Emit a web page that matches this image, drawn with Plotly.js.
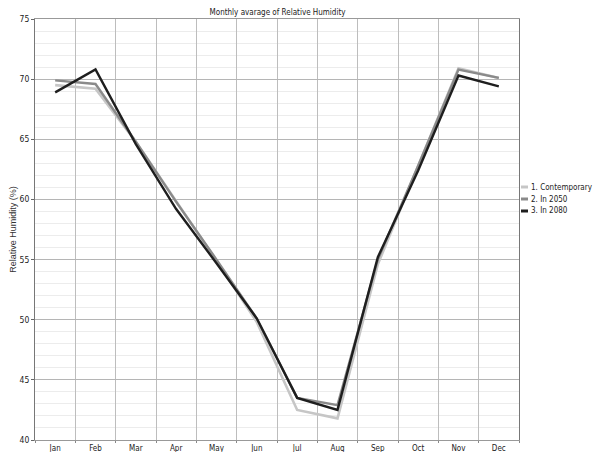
<!DOCTYPE html>
<html>
<head>
<meta charset="utf-8">
<script src="https://cdn.plot.ly/plotly-3.0.1.min.js"></script>
<style>
html,body{margin:0;padding:0;background:#fff;}
#chart{width:593px;height:452px;}
</style>
</head>
<body>
<div id="chart"></div>
<script>
var months = ["Jan","Feb","Mar","Apr","May","Jun","Jul","Aug","Sep","Oct","Nov","Dec"];
var seriesNames = ["1. Contemporary","2. In 2050","3. In 2080"];
var contemporary = [69.5, 69.2, 64.8, 59.9, 54.9, 49.8, 42.5, 41.8, 54.6, 62.8, 70.9, 70.1];
var in2050       = [69.9, 69.6, 64.8, 59.8, 55.0, 50.1, 43.5, 42.9, 55.0, 62.8, 70.8, 70.1];
var in2080       = [68.9, 70.8, 64.6, 59.2, 54.7, 50.1, 43.5, 42.5, 55.2, 62.4, 70.3, 69.4];
var yTicks = [40, 45, 50, 55, 60, 65, 70, 75];

var colors = ["#c6c6c6", "#8a8a8a", "#1e1e1e"];
var widths = [2.6, 2.4, 2.4];
var allSeries = [contemporary, in2050, in2080];

var narrow = "DejaVu Sans Condensed, Liberation Sans Narrow, Arial Narrow, sans-serif";

var traces = allSeries.map(function(s, i){
  return {
    x: months, y: s, type: "scatter", mode: "lines", name: seriesNames[i],
    line: {color: colors[i], width: widths[i]}, showlegend: false
  };
});

var plotTop = 19, plotBottom = 440, plotH = plotBottom - plotTop;
var shapes = [];
var annotations = [];
seriesNames.forEach(function(n, i){
  var yp = 187 + i*12;
  var yy = 1 - (yp - plotTop)/plotH;
  shapes.push({type:"line", xref:"paper", yref:"paper",
    x0: (521-35)/484, x1: (528-35)/484, y0: yy, y1: yy,
    line:{color: colors[i], width: 3}});
  annotations.push({xref:"paper", yref:"paper", x:(529-35)/484, y:yy,
    xanchor:"left", yanchor:"middle", showarrow:false, text:n,
    font:{family: narrow, size: 8, color:"#222"}});
});

var layout = {
  width: 593, height: 452,
  margin: {l:35, r:74, t:plotTop, b:452-plotBottom, pad:0},
  paper_bgcolor: "#fff", plot_bgcolor: "#fff",
  title: {text: "Monthly avarage of Relative Humidity", x: 0.468, xanchor:"center",
          y: 0.974, yanchor:"middle", yref:"container",
          font:{family: narrow, size: 8, color:"#222"}},
  xaxis: {
    type: "category", tickson: "boundaries", showgrid: true, gridcolor: "#bdbdbd", gridwidth: 1,
    ticks: "outside", ticklen: 2, tickcolor: "#888",
    showline: true, linecolor: "#999", linewidth: 1, mirror: true,
    tickfont: {family: narrow, size: 8, color:"#222"},
    range: [-0.5, 11.5], fixedrange: true
  },
  yaxis: {
    range: [40, 75], tickvals: yTicks, ticktext: yTicks.map(String),
    showgrid: true, gridcolor: "#b5b5b5", gridwidth: 1,
    minor: {dtick: 1, tick0: 40, showgrid: true, gridcolor: "#ececec", gridwidth: 1},
    ticks: "outside", ticklen: 3, tickcolor: "#666",
    showline: true, linecolor: "#777", linewidth: 1, mirror: true,
    zeroline: false,
    tickfont: {family: narrow, size: 8.5, color:"#222"},
    title: {text: "Relative Humidity (%)", standoff: 1,
            font: {family: "Liberation Sans, Arial, sans-serif", size: 9, color:"#333"}}
  },
  shapes: shapes,
  annotations: annotations,
  showlegend: false
};

Plotly.newPlot("chart", traces, layout, {displayModeBar: false, staticPlot: true});
</script>
</body>
</html>
